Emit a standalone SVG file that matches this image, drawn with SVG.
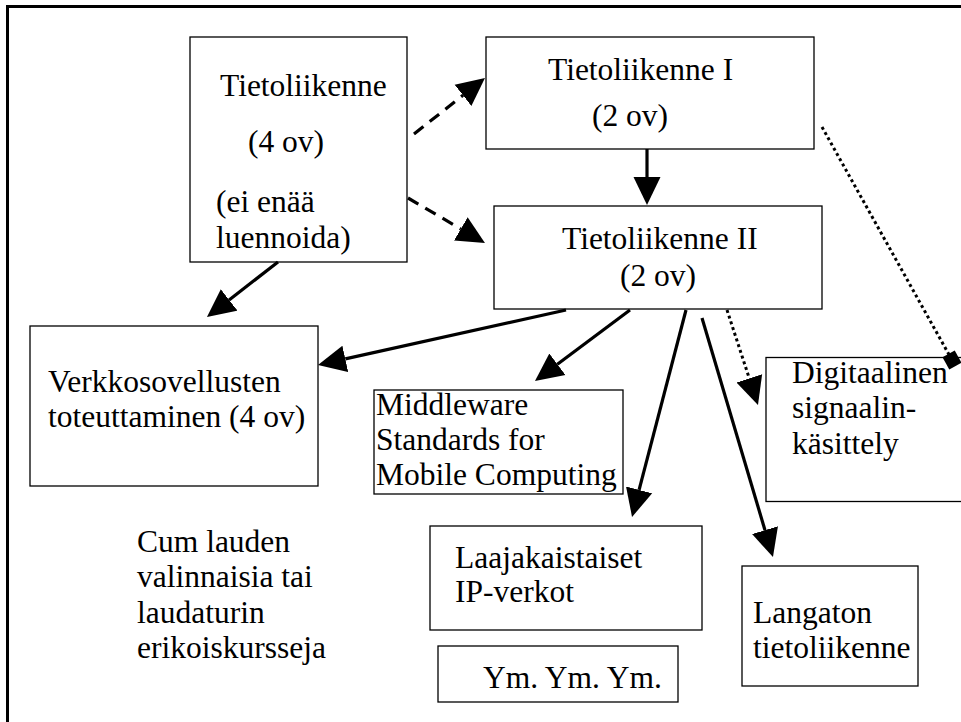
<svg xmlns="http://www.w3.org/2000/svg" width="961" height="722" viewBox="0 0 961 722">
<style>
.box{fill:#fff;stroke:#000;stroke-width:1.3}
text{font-size:31.5px;fill:#000}
.c{fill:none;stroke:#000;stroke-width:3.2}
.dash{stroke-dasharray:12 8}
.dot{stroke-dasharray:3 3;stroke-width:3}
</style>
<defs>
<marker id="ah" viewBox="0 -14 28 28" refX="0" refY="0" markerWidth="28" markerHeight="28" markerUnits="userSpaceOnUse" orient="auto">
<path d="M0,-13.5 L28,0 L0,13.5 Z" fill="#000"/>
</marker>
<marker id="dm" viewBox="-10 -10 20 20" refX="0" refY="0" markerWidth="20" markerHeight="20" markerUnits="userSpaceOnUse" orient="auto">
<rect x="-7" y="-7" width="14" height="14" fill="#000"/>
</marker>
</defs>
<rect x="0" y="0" width="961" height="722" fill="#fff"/>
<rect x="7.5" y="6.5" width="1000" height="800" fill="none" stroke="#000" stroke-width="3"/>

<g font-family="'Liberation Serif', 'DejaVu Serif', serif">
<g id="n1"><rect class="box" x="190" y="37" width="217" height="225"/>
<text x="220" y="96">Tietoliikenne</text>
<text x="248" y="152">(4 ov)</text>
<text x="216" y="212">(ei enää</text>
<text x="216" y="248">luennoida)</text></g>

<g id="n2"><rect class="box" x="486" y="37" width="328" height="112"/>
<text x="548" y="80">Tietoliikenne I</text>
<text x="592" y="126">(2 ov)</text></g>

<g id="n3"><rect class="box" x="494" y="206" width="328" height="103"/>
<text x="562" y="249">Tietoliikenne II</text>
<text x="620" y="286">(2 ov)</text></g>

<g id="n4"><rect class="box" x="30" y="326" width="288" height="160"/>
<text x="48" y="392">Verkkosovellusten</text>
<text x="48" y="427">toteuttaminen (4 ov)</text></g>

<g id="n5"><rect class="box" x="374" y="390" width="249" height="104"/>
<text x="376" y="415">Middleware</text>
<text x="376" y="450">Standards for</text>
<text x="376" y="485">Mobile Computing</text></g>

<g id="n6"><rect class="box" x="430" y="526" width="272" height="104"/>
<text x="455" y="568">Laajakaistaiset</text>
<text x="455" y="602">IP-verkot</text></g>

<g id="n7"><rect class="box" x="438" y="646" width="240" height="56"/>
<text x="483" y="688">Ym. Ym. Ym.</text></g>

<g id="n8"><rect class="box" x="766" y="357.5" width="220" height="144"/>
<text x="792" y="383">Digitaalinen</text>
<text x="792" y="418">signaalin-</text>
<text x="792" y="454">käsittely</text></g>

<g id="n9"><rect class="box" x="742" y="566" width="176" height="120"/>
<text x="753" y="623">Langaton</text>
<text x="753" y="658">tietoliikenne</text></g>

<g id="n10"><text x="137" y="552">Cum lauden</text>
<text x="137" y="587">valinnaisia tai</text>
<text x="137" y="623">laudaturin</text>
<text x="137" y="658">erikoiskursseja</text></g>
</g>

<g id="connectors">
<path class="c dash" d="M414,134 L463,95.3" marker-end="url(#ah)"/>
<path class="c dash" d="M408,198 L460.8,228.9" marker-end="url(#ah)"/>
<path class="c" d="M278,262 L229.1,299.9" marker-end="url(#ah)"/>
<path class="c" d="M647,149 L647,177" marker-end="url(#ah)"/>
<path class="c" d="M566,310 L345.3,358.9" marker-end="url(#ah)"/>
<path class="c" d="M630,310 L557.4,364.2" marker-end="url(#ah)"/>
<path class="c" d="M686,310 L639.1,489.9" marker-end="url(#ah)"/>
<path class="c" d="M702,318 L765,530.2" marker-end="url(#ah)"/>
<path class="c dot" d="M727,310 L749.3,378.4" marker-end="url(#ah)"/>
<path class="c dot" d="M822,127 L952,360" marker-end="url(#dm)"/>
</g>
</svg>
